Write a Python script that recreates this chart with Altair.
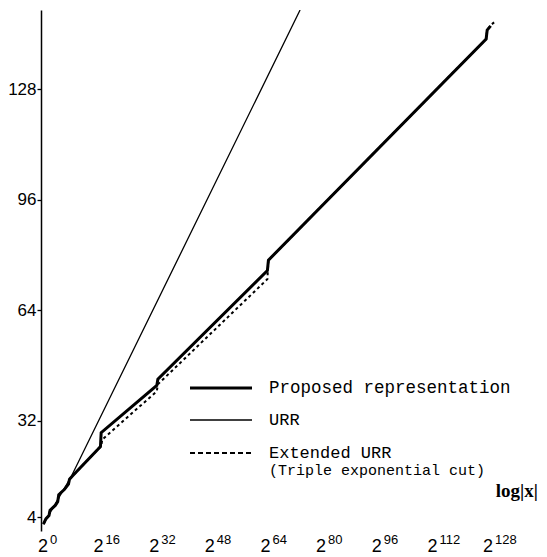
import altair as alt
import pandas as pd

# ---------------- data ----------------
prop_x = [-1.0, -0.3, 0.6, 0.9, 2.4, 3.1, 3.4, 5.0, 6.2, 6.5, 7.6, 14.6, 15.4, 15.6, 31.6, 31.9, 63.4, 63.7, 126.3, 126.6, 127.6]
prop_y = [2.0, 3.5, 4.5, 6.0, 7.4, 8.5, 10.5, 12.0, 13.6, 15.0, 16.2, 23.6, 24.5, 28.5, 42.2, 44.0, 75.5, 78.5, 142.6, 145.2, 146.4]

ext_x = [-1.0, -0.3, 0.6, 0.9, 2.4, 3.1, 3.4, 5.0, 6.2, 6.5, 7.6, 14.6, 15.6, 15.9, 31.6, 31.9, 63.4, 63.7, 126.3, 126.6, 127.8, 128.6]
ext_y = [2.0, 3.5, 4.5, 6.0, 7.4, 8.5, 10.5, 12.0, 13.6, 15.0, 16.2, 23.6, 24.5, 26.5, 40.5, 42.5, 73.0, 78.5, 142.6, 145.2, 146.8, 147.4]

urr_x = [-1.0, 7.0, 72.8]
urr_y = [2.0, 15.8, 151.0]

y_ticks = [4, 32, 64, 96, 128]
x_exps = [0, 16, 32, 48, 64, 80, 96, 112, 128]
x_exp_labels = ["0", "16", "32", "48", "64", "80", "96", "112", "128"]
legend_labels = ["Proposed representation", "URR", "Extended URR", "(Triple exponential cut)"]
x_title = "log|x|"

# ---------------- chart ----------------
W, H = 498, 521
xs = alt.Scale(domain=[-1.7, 141.5], nice=False, zero=False)
ys = alt.Scale(domain=[0, 151], nice=False, zero=False)

df_prop = pd.DataFrame({"x": prop_x, "y": prop_y, "o": list(range(len(prop_x)))})
df_ext = pd.DataFrame({"x": ext_x, "y": ext_y, "o": list(range(len(ext_x)))})
df_urr = pd.DataFrame({"x": urr_x, "y": urr_y, "o": list(range(len(urr_x)))})
df_lab = pd.DataFrame({"e": x_exps, "lab": x_exp_labels})
one = alt.Data(values=[{"a": 1}])

x_axis = alt.Axis(values=x_exps, labels=False, title=None, tickSize=5, grid=False)
y_axis = alt.Axis(values=y_ticks, title=None, tickSize=4, grid=False, labelFontSize=17,
                  labelFont="Liberation Sans", labelColor="black", labelPadding=1)

ext = alt.Chart(df_ext).mark_line(color="black", strokeWidth=2, strokeDash=[3, 3], clip=True).encode(
    x=alt.X("x:Q", scale=xs, axis=x_axis),
    y=alt.Y("y:Q", scale=ys, axis=y_axis),
    order="o:Q",
)
urr = alt.Chart(df_urr).mark_line(color="black", strokeWidth=1.3, clip=True).encode(
    x=alt.X("x:Q", scale=xs), y=alt.Y("y:Q", scale=ys), order="o:Q"
)
prop = alt.Chart(df_prop).mark_line(color="black", strokeWidth=3, clip=True).encode(
    x=alt.X("x:Q", scale=xs), y=alt.Y("y:Q", scale=ys), order="o:Q"
)

base2 = alt.Chart(df_lab).mark_text(text="2", align="right", baseline="alphabetic", fontSize=18,
                                    font="Liberation Sans", color="black", dx=1).encode(
    x=alt.X("e:Q", scale=xs, axis=None), y=alt.value(H + 21)
)
expo = alt.Chart(df_lab).mark_text(align="left", baseline="alphabetic", fontSize=13,
                                   font="Liberation Sans", color="black", dx=3).encode(
    x=alt.X("e:Q", scale=xs, axis=None), y=alt.value(H + 13), text="lab:N"
)
xtitle = alt.Chart(one).mark_text(text=x_title, align="right", baseline="alphabetic", fontSize=19,
                                  font="Liberation Serif", fontWeight="bold", color="black").encode(
    x=alt.value(W - 1), y=alt.value(H - 34)
)

# legend
leg_y = [378, 410, 443]
leg1 = alt.Chart(one).mark_rule(color="black", strokeWidth=3).encode(
    x=alt.value(149), x2=alt.value(211), y=alt.value(leg_y[0]))
leg2 = alt.Chart(one).mark_rule(color="black", strokeWidth=1.3).encode(
    x=alt.value(149), x2=alt.value(211), y=alt.value(leg_y[1]))
leg3 = alt.Chart(one).mark_rule(color="black", strokeWidth=2, strokeDash=[5, 3]).encode(
    x=alt.value(149), x2=alt.value(211), y=alt.value(leg_y[2]))
txt_y = [leg_y[0], leg_y[1], leg_y[2], leg_y[2] + 17]
txt_size = [17.5, 17, 17, 15]
leg_txt = [
    alt.Chart(one).mark_text(text=t, align="left", baseline="middle", fontSize=fs,
                             font="Liberation Mono", color="black").encode(
        x=alt.value(228), y=alt.value(yy))
    for t, yy, fs in zip(legend_labels, txt_y, txt_size)
]

chart = alt.layer(ext, urr, prop, base2, expo, xtitle, leg1, leg2, leg3, *leg_txt).properties(
    width=W, height=H,
    autosize=alt.AutoSizeParams(type="none"),
    padding={"left": 33, "top": 2, "right": 0, "bottom": 24},
).configure_view(stroke=None).configure_axis(
    domainColor="black", domainWidth=1.5, tickColor="black", tickWidth=1.3
)

chart.save("out.html", embed_options={"renderer": "svg", "actions": False})
